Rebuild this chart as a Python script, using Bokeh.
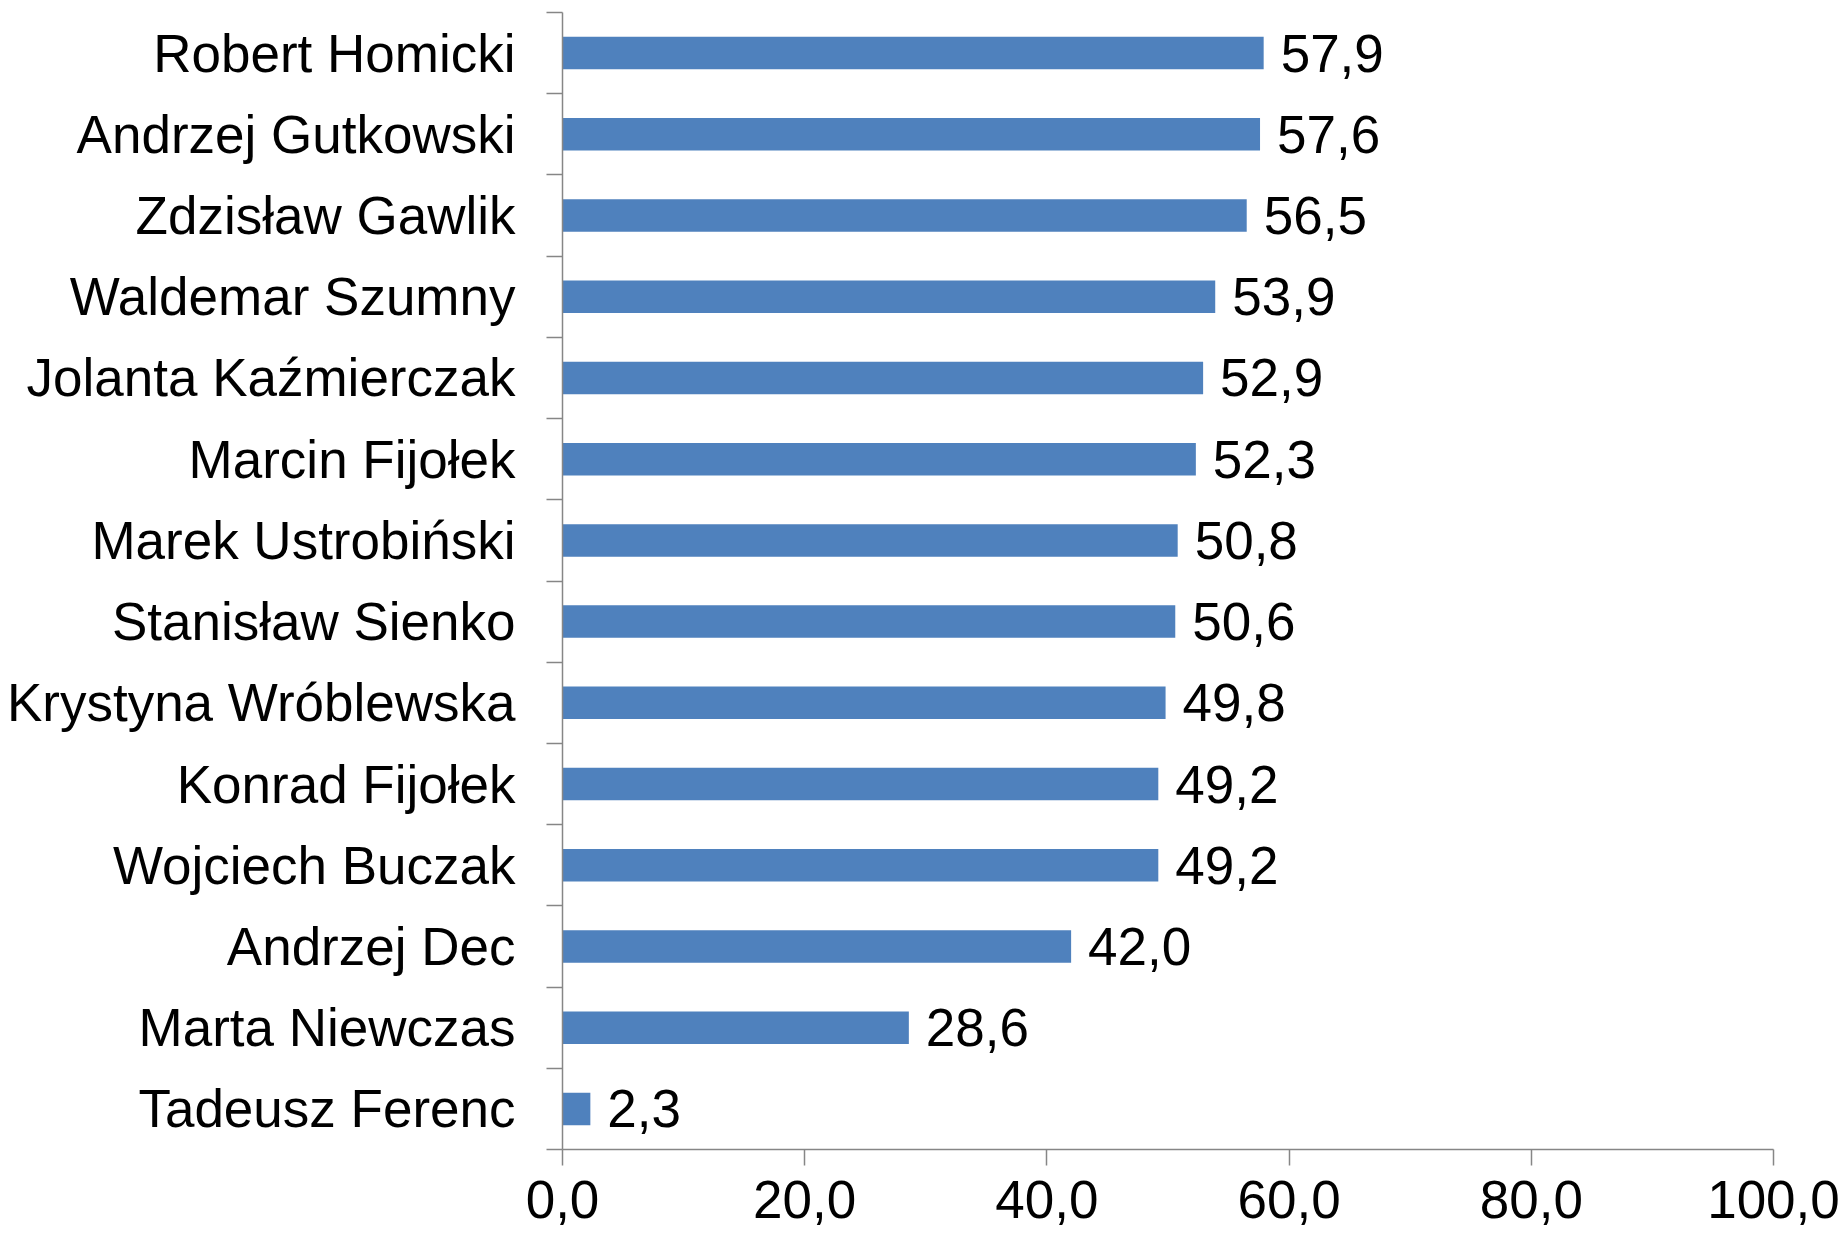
from bokeh.plotting import figure
from bokeh.models import ColumnDataSource, FixedTicker, Range1d
from bokeh.core.properties import value
from bokeh.embed import file_html
from bokeh.resources import INLINE

names = ["Robert Homicki", "Andrzej Gutkowski", "Zdzisław Gawlik", "Waldemar Szumny",
         "Jolanta Kaźmierczak", "Marcin Fijołek", "Marek Ustrobiński", "Stanisław Sienko",
         "Krystyna Wróblewska", "Konrad Fijołek", "Wojciech Buczak", "Andrzej Dec",
         "Marta Niewczas", "Tadeusz Ferenc"]
values = [57.9, 57.6, 56.5, 53.9, 52.9, 52.3, 50.8, 50.6, 49.8, 49.2, 49.2, 42.0, 28.6, 2.3]
x_ticks = [0, 20, 40, 60, 80, 100]
x_tick_labels = ["0,0", "20,0", "40,0", "60,0", "80,0", "100,0"]

n = len(names)
pos = [n - 1 - i for i in range(n)]
labels = [f"{v:.1f}".replace(".", ",") for v in values]
src = ColumnDataSource(dict(name=names, val=values, pos=pos, lab=labels))

FONT = "Liberation Sans"
AXIS_COLOR = "#868686"

p = figure(width=1845, height=1239, output_backend="svg", toolbar_location=None,
           x_range=Range1d(0, 100), y_range=Range1d(-0.5, n - 0.5),
           min_border_left=562, min_border_top=12, min_border_right=72, min_border_bottom=90)
p.outline_line_color = None
p.xgrid.grid_line_color = None
p.ygrid.grid_line_color = None
p.background_fill_color = "white"
p.border_fill_color = "white"

p.hbar(y="pos", right="val", left=0, height=0.4, source=src,
       fill_color="#4F81BD", line_color=None)
p.text(x="val", y="pos", text="lab", source=src, x_offset=17,
       text_baseline="middle", text_align="left", text_color="black",
       text_font=value(FONT), text_font_size="53px")

# y axis: labels at category centres, ticks at boundaries
ya = p.yaxis[0]
ya.ticker = FixedTicker(ticks=pos, minor_ticks=[k - 0.5 for k in range(n + 1)])
ya.major_label_overrides = {pp: nm for pp, nm in zip(pos, names)}
ya.major_tick_out = 0
ya.major_tick_in = 0
ya.minor_tick_out = 16
ya.minor_tick_in = 0
ya.minor_tick_line_color = AXIS_COLOR
ya.minor_tick_line_width = 1.5
ya.axis_line_color = AXIS_COLOR
ya.axis_line_width = 1.5
ya.major_label_standoff = 31
ya.major_label_text_font = FONT
ya.major_label_text_font_size = "53px"
ya.major_label_text_color = "black"

xa = p.xaxis[0]
xa.ticker = FixedTicker(ticks=x_ticks, minor_ticks=[])
xa.major_label_overrides = {t: l for t, l in zip(x_ticks, x_tick_labels)}
xa.major_tick_out = 16
xa.major_tick_in = 0
xa.major_tick_line_color = AXIS_COLOR
xa.major_tick_line_width = 1.5
xa.minor_tick_line_color = None
xa.axis_line_color = AXIS_COLOR
xa.axis_line_width = 1.5
xa.major_label_standoff = 15
xa.major_label_text_font = FONT
xa.major_label_text_font_size = "53px"
xa.major_label_text_color = "black"

open("out.html", "w").write(file_html(p, INLINE))
